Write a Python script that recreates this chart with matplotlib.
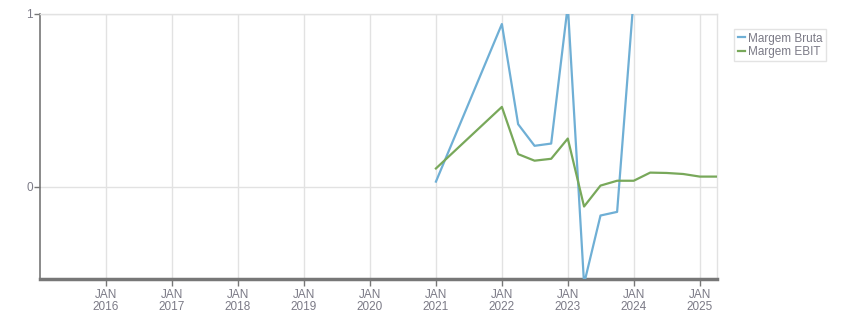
import numpy as np
import pandas as pd
import matplotlib.pyplot as plt
import matplotlib.dates as mdates

plt.rcParams['font.family'] = ['Liberation Sans', 'DejaVu Sans']

# ---------------------------------------------------------------------
# Data
# ---------------------------------------------------------------------
dates = ["2021-01-01", "2022-01-01", "2022-04-01", "2022-07-01", "2022-10-01",
         "2023-01-01", "2023-04-01", "2023-07-01", "2023-10-01", "2024-01-01",
         "2024-04-01", "2024-07-01", "2024-10-01", "2025-01-01", "2025-04-01"]
margem_bruta = [0.031, 0.942, 0.363, 0.238, 0.251,
                1.05, -0.56, -0.165, -0.144, 1.10,
                np.nan, np.nan, np.nan, np.nan, np.nan]
margem_ebit = [0.107, 0.463, 0.19, 0.152, 0.163,
               0.280, -0.113, 0.008, 0.036, 0.036,
               0.083, 0.081, 0.075, 0.060, 0.060]
year_ticks = list(range(2016, 2026))

x = pd.to_datetime(dates)

# ---------------------------------------------------------------------
# Figure
# ---------------------------------------------------------------------
fig = plt.figure(figsize=(8.51, 3.13), dpi=100)
ax = fig.add_axes([40 / 851, 1 - 279 / 313, 677 / 851, 265 / 313])

blue = "#6fafd5"
green = "#78a85a"
label_col = "#7b7a86"

ax.plot(x, margem_bruta, color=blue, lw=1.6, label="Margem Bruta", zorder=3)
ax.plot(x, margem_ebit, color=green, lw=1.6, label="Margem EBIT", zorder=3)

ax.set_xlim(pd.Timestamp("2015-01-01"), pd.Timestamp("2025-04-06"))
ax.set_ylim(-0.532, 1.0)

ax.set_xticks([pd.Timestamp(f"{y}-01-01") for y in year_ticks])
ax.set_xticklabels([f"JAN\n{y}" for y in year_ticks], linespacing=1.05)
ax.set_yticks([0, 1])
ax.set_yticklabels(["0", "1"])

ax.grid(True, color="#e2e2e2", lw=1)
ax.set_axisbelow(True)

ax.tick_params(axis="x", colors="#777777", labelcolor=label_col, labelsize=8.5,
               length=5, width=1, pad=2)
ax.tick_params(axis="y", colors="#777777", labelcolor=label_col, labelsize=8.5,
               length=4, width=1, pad=1)

for s in ["top", "right"]:
    ax.spines[s].set_color("#e2e2e2")
    ax.spines[s].set_linewidth(1)
ax.spines["left"].set_color("#777777")
ax.spines["left"].set_linewidth(1.2)
ax.spines["bottom"].set_color("#777777")
ax.spines["bottom"].set_linewidth(2.5)

leg = fig.legend(loc="upper left", bbox_to_anchor=(734 / 851, 1 - 29 / 313),
                 fontsize=8.5, frameon=True, fancybox=False, handlelength=0.6,
                 handletextpad=0.3, borderpad=0.3, labelspacing=0.1,
                 borderaxespad=0)
leg.get_frame().set_edgecolor("#dddddd")
leg.get_frame().set_linewidth(1)
for t in leg.get_texts():
    t.set_color(label_col)

fig.savefig("out.png", dpi=100)
